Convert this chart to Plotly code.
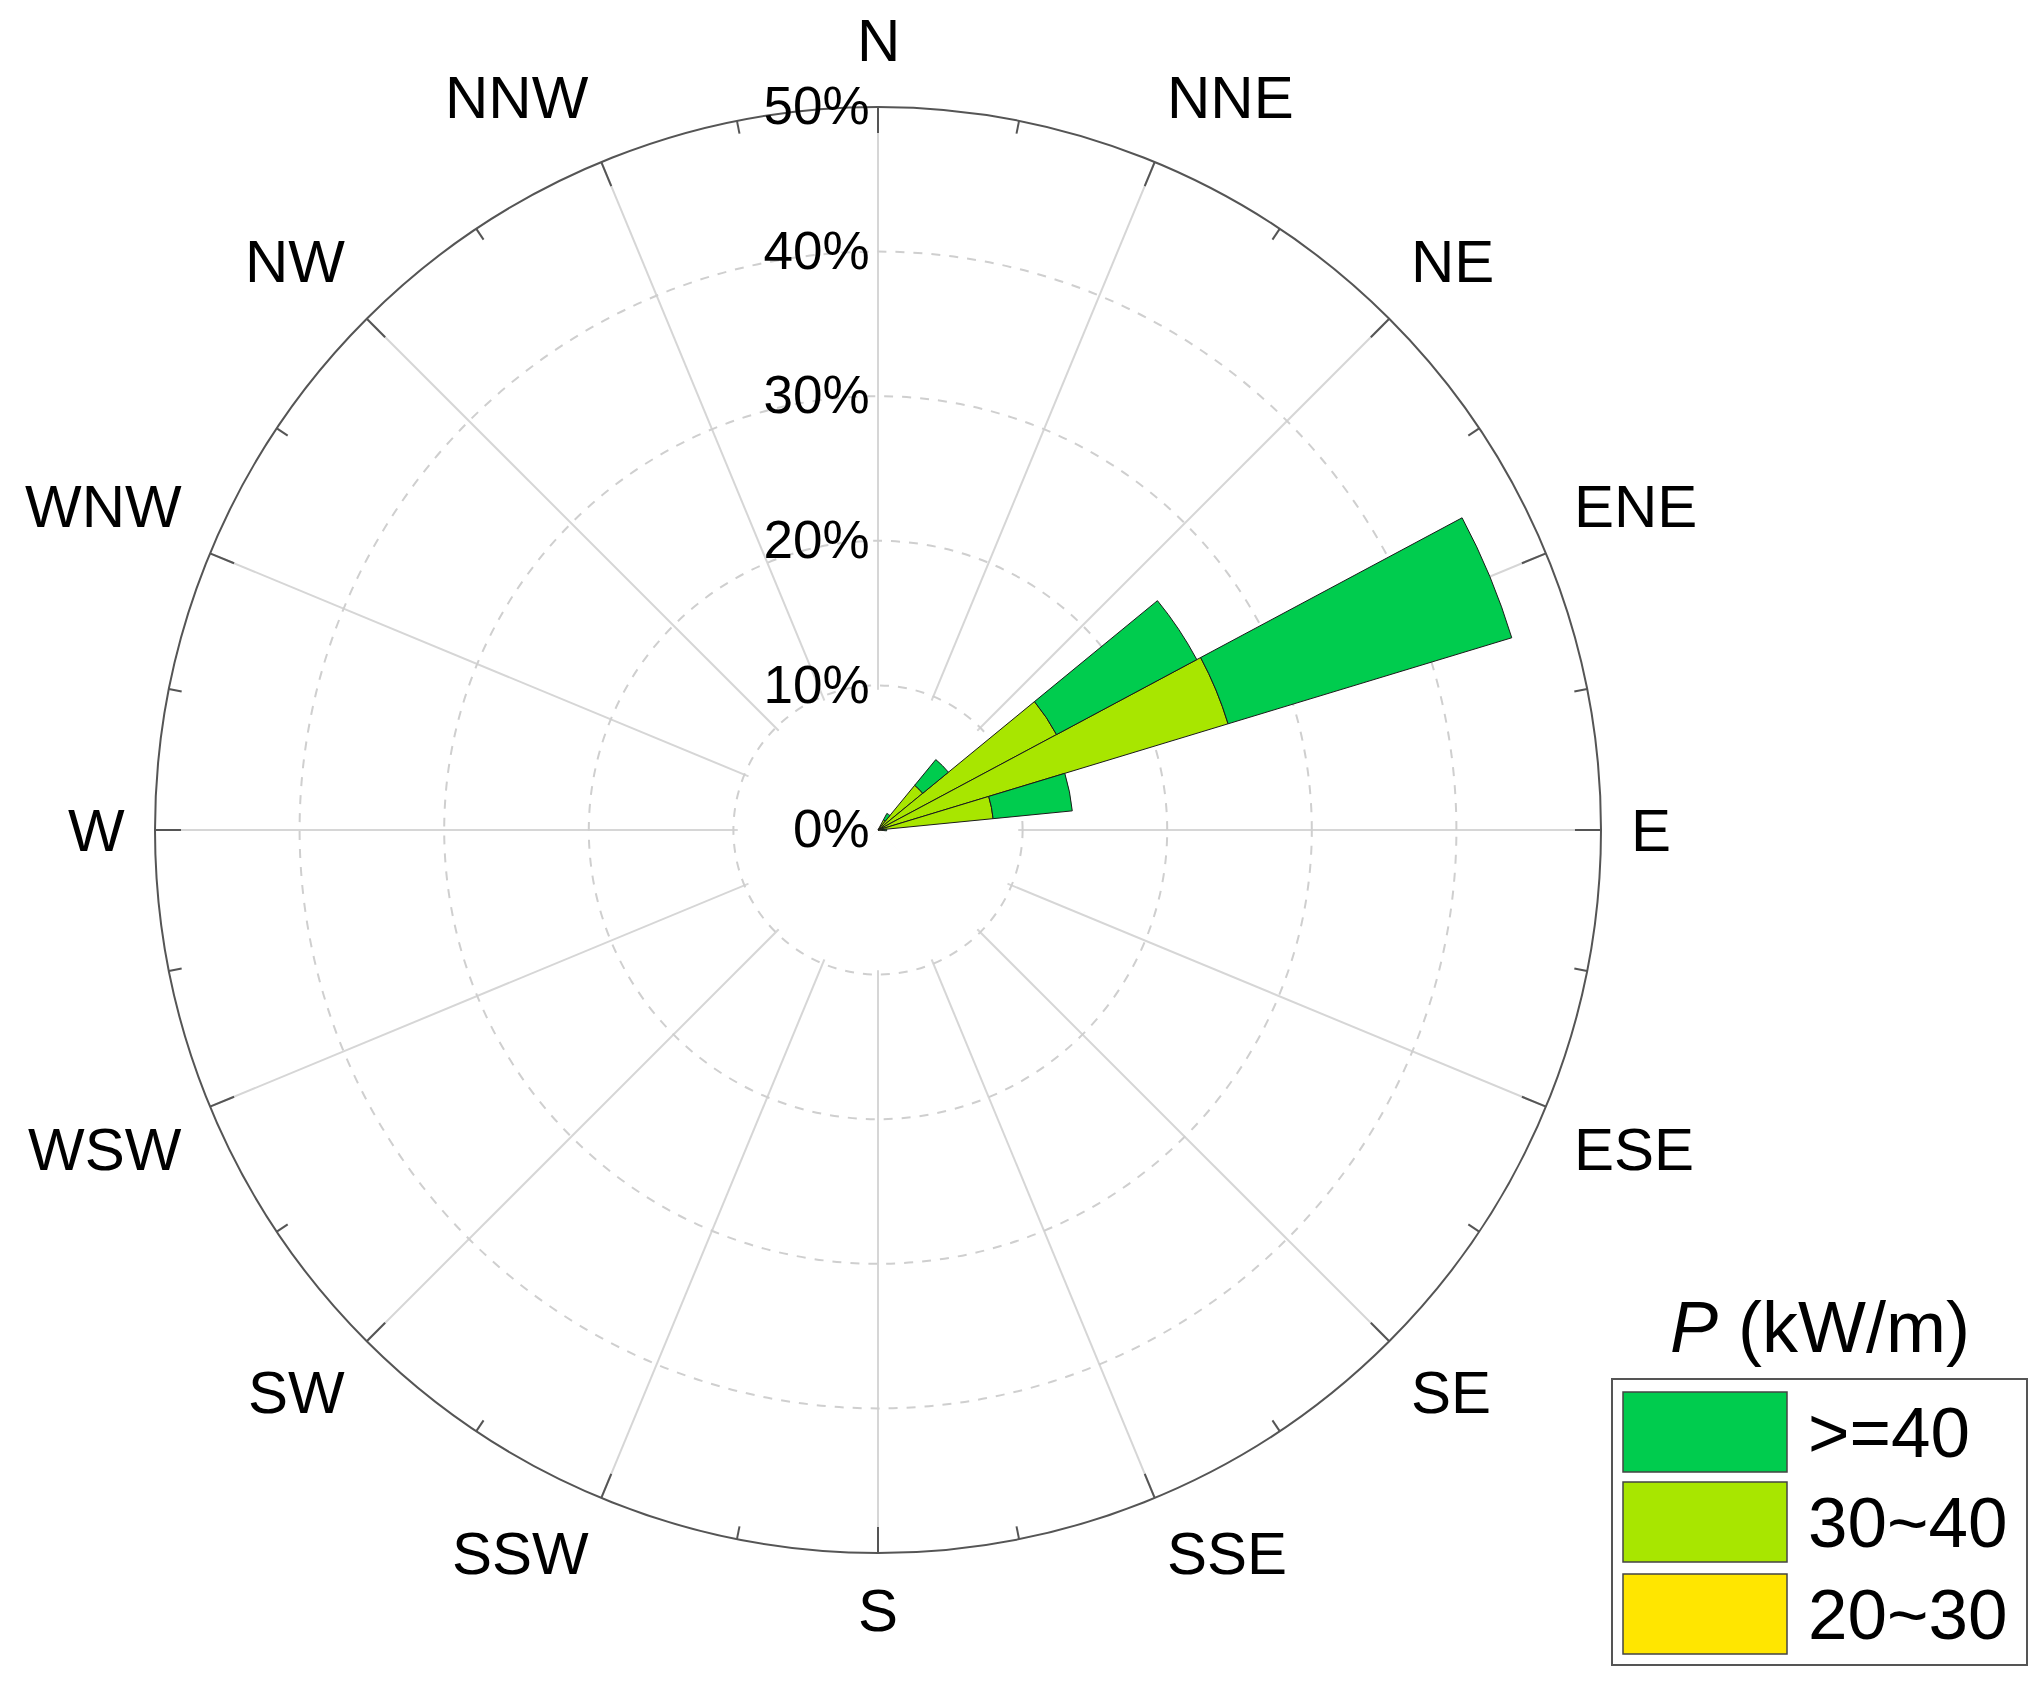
import math
import plotly.graph_objects as go

# direction bins (deg, clockwise from N) and share (%) per power class
bin_deg = [33.75, 45.0, 56.25, 67.5, 78.75, 90.0]
p_20_30 = [0.2, 0.3, 0.4, 0.4, 0.3, 0.1]
p_30_40 = [0.6, 3.7, 13.6, 24.9, 7.7, 0.3]
p_ge_40 = [0.5, 2.3, 11.0, 20.5, 5.5, 0.2]

class_names = [">=40", "30~40", "20~30"]
class_colors = ["#00CC4E", "#A8E600", "#FFE600"]

dir_labels = ["N", "NNE", "NE", "ENE", "E", "ESE", "SE", "SSE",
              "S", "SSW", "SW", "WSW", "W", "WNW", "NW", "NNW"]
dir_deg = [i * 22.5 for i in range(16)]
r_ticks = [0, 10, 20, 30, 40, 50]

W, H = 2040, 1689
cx, cy, R = 870, 822, 723
r_max = 50


def px(x):
    return x / W


def py(y):
    return 1 - y / H


fig = go.Figure()

# white disc hides the spokes inside the 10% ring
fig.add_trace(go.Barpolar(r=[9.7] * 4, theta=[0, 90, 180, 270], width=92,
                          marker=dict(color="white", line=dict(width=0)),
                          hoverinfo="skip", showlegend=False))

base = [0.0] * len(bin_deg)
for vals, name, col in [(p_20_30, class_names[2], class_colors[2]),
                        (p_30_40, class_names[1], class_colors[1]),
                        (p_ge_40, class_names[0], class_colors[0])]:
    fig.add_trace(go.Barpolar(r=vals, theta=bin_deg, base=list(base), width=11.25, name=name,
                              marker=dict(color=col, line=dict(color="#1a1a1a", width=1)),
                              showlegend=False))
    base = [b + v for b, v in zip(base, vals)]

# ticks on the outer ring (long ones at the labels, short ones in between)
tr, tt = [], []
for i in range(32):
    a = i * 11.25
    tr += [r_max, r_max - (1.8 if i % 2 == 0 else 0.9), None]
    tt += [a, a, None]
fig.add_trace(go.Scatterpolar(r=tr, theta=tt, mode="lines",
                              line=dict(color="#555555", width=2),
                              hoverinfo="skip", showlegend=False))

fig.update_layout(
    width=W, height=H,
    margin=dict(l=0, r=0, t=0, b=0),
    paper_bgcolor="white",
    font=dict(family="Liberation Sans, Arial, sans-serif", color="black"),
    polar=dict(
        domain=dict(x=[px(cx - R), px(cx + R)], y=[py(cy + R), py(cy - R)]),
        bgcolor="white",
        barmode="overlay",
        angularaxis=dict(rotation=90, direction="clockwise",
                         tickmode="array", tickvals=dir_deg, ticktext=[""] * 16,
                         ticks="",
                         showgrid=True, gridcolor="#d6d6d6", gridwidth=1.6,
                         showline=True, linecolor="#555555", linewidth=2),
        radialaxis=dict(range=[0, r_max], angle=90, side="counterclockwise",
                        tickmode="array", tickvals=r_ticks,
                        ticktext=[f"{v}%" for v in r_ticks], tickangle=90,
                        showline=False, ticks="",
                        showgrid=True, gridcolor="#cfcfcf", griddash="dash", gridwidth=1.5,
                        tickfont=dict(size=53)),
    ),
)

# compass labels just outside the ring
for lab, a in zip(dir_labels, dir_deg):
    s, c = math.sin(math.radians(a)), math.cos(math.radians(a))
    xa = "center" if abs(s) < 0.1 else ("left" if s > 0 else "right")
    ya = "middle" if abs(c) < 0.1 else ("bottom" if c > 0 else "top")
    gx = 29
    gy = 32 if c > 0 else 23
    fig.add_annotation(xref="paper", yref="paper",
                       x=px(cx + (R + gx) * s), y=py(cy - (R + gy) * c),
                       text=lab, showarrow=False, xanchor=xa, yanchor=ya,
                       borderpad=0, font=dict(size=60))

# legend drawn by hand to get the large swatches
fig.add_shape(type="rect", xref="paper", yref="paper",
              x0=px(1604), x1=px(2019), y0=py(1657), y1=py(1371),
              line=dict(color="#555555", width=2), fillcolor="white")
sw_top = [1384, 1474, 1566]
for top, name, col in zip(sw_top, class_names, class_colors):
    fig.add_shape(type="rect", xref="paper", yref="paper",
                  x0=px(1615), x1=px(1779), y0=py(top + 80), y1=py(top),
                  line=dict(color="#444444", width=1.5), fillcolor=col)
    fig.add_annotation(xref="paper", yref="paper", x=px(1798), y=py(top + 40),
                       text=name, showarrow=False, xanchor="left", yanchor="middle",
                       font=dict(size=71))
fig.add_annotation(xref="paper", yref="paper", x=px(1812), y=py(1319),
                   text="<i>P</i> (kW/m)", showarrow=False,
                   xanchor="center", yanchor="middle", font=dict(size=72))

fig.write_html("out.html")
